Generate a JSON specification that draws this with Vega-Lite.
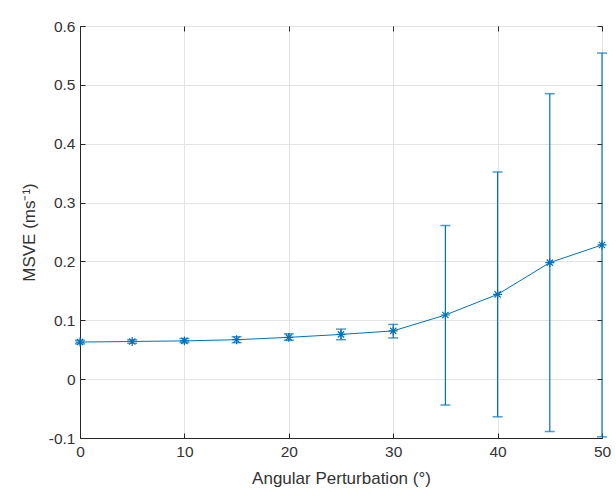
{
  "$schema": "https://vega.github.io/schema/vega-lite/v6.json",
  "width": 522,
  "height": 412,
  "autosize": {"type": "none"},
  "padding": {"left": 80, "top": 26, "right": 14, "bottom": 58},
  "background": "white",
  "config": {
    "font": "Liberation Sans",
    "view": {"stroke": "#262626", "strokeWidth": 1},
    "axis": {
      "domainColor": "#262626",
      "tickColor": "#262626",
      "labelColor": "#333333",
      "titleColor": "#333333",
      "labelFont": "Liberation Sans",
      "titleFont": "Liberation Sans",
      "labelFontSize": 15.5,
      "titleFontSize": 17,
      "titleFontWeight": "normal",
      "gridColor": "#e3e3e3",
      "gridWidth": 1,
      "tickSize": -5,
      "tickWidth": 1
    }
  },
  "resolve": {"axis": {"x": "independent", "y": "independent"}},
  "data": {
    "values": [
      {"angle": 0, "msve": 0.063, "lo": 0.060, "hi": 0.066},
      {"angle": 5, "msve": 0.064, "lo": 0.061, "hi": 0.067},
      {"angle": 10, "msve": 0.065, "lo": 0.062, "hi": 0.069},
      {"angle": 15, "msve": 0.067, "lo": 0.062, "hi": 0.072},
      {"angle": 20, "msve": 0.071, "lo": 0.066, "hi": 0.077},
      {"angle": 25, "msve": 0.076, "lo": 0.067, "hi": 0.085},
      {"angle": 30, "msve": 0.082, "lo": 0.070, "hi": 0.093},
      {"angle": 35, "msve": 0.109, "lo": -0.044, "hi": 0.261},
      {"angle": 40, "msve": 0.144, "lo": -0.064, "hi": 0.352},
      {"angle": 45, "msve": 0.198, "lo": -0.089, "hi": 0.485},
      {"angle": 50, "msve": 0.228, "lo": -0.098, "hi": 0.554}
    ]
  },
  "layer": [
    {
      "mark": {"type": "rule", "color": "#0072BD", "strokeWidth": 1.2, "clip": false},
      "encoding": {
        "x": {
          "field": "angle",
          "type": "quantitative",
          "scale": {"domain": [0, 50], "nice": false, "zero": false},
          "axis": {
            "title": "Angular Perturbation (°)",
            "values": [0, 10, 20, 30, 40, 50],
            "labelPadding": 11,
            "titlePadding": 11,
            "labelFlush": false
          }
        },
        "y": {
          "field": "lo",
          "type": "quantitative",
          "scale": {"domain": [-0.1, 0.6], "nice": false, "zero": false},
          "axis": {
            "title": "MSVE (ms⁻¹)",
            "values": [-0.1, 0, 0.1, 0.2, 0.3, 0.4, 0.5, 0.6],
            "labelExpr": "datum.value < -0.0001 ? '-' + format(-datum.value, '.1~f') : format(abs(datum.value), '.1~f')",
            "labelPadding": 10,
            "titlePadding": 10,
            "labelFlush": false
          }
        },
        "y2": {"field": "hi"}
      }
    },
    {
      "mark": {"type": "tick", "orient": "horizontal", "color": "#0072BD", "size": 10, "thickness": 1.5, "clip": false},
      "encoding": {
        "x": {"field": "angle", "type": "quantitative", "axis": null},
        "y": {"field": "lo", "type": "quantitative", "axis": null}
      }
    },
    {
      "mark": {"type": "tick", "orient": "horizontal", "color": "#0072BD", "size": 10, "thickness": 1.5, "clip": false},
      "encoding": {
        "x": {"field": "angle", "type": "quantitative", "axis": null},
        "y": {"field": "hi", "type": "quantitative", "axis": null}
      }
    },
    {
      "mark": {"type": "line", "color": "#0072BD", "strokeWidth": 1},
      "encoding": {
        "x": {"field": "angle", "type": "quantitative", "axis": {"orient": "top", "values": [0, 10, 20, 30, 40, 50], "labels": false, "grid": false, "title": null, "domain": false}},
        "y": {"field": "msve", "type": "quantitative", "axis": {"orient": "right", "values": [-0.1, 0, 0.1, 0.2, 0.3, 0.4, 0.5, 0.6], "labels": false, "grid": false, "title": null, "domain": false}}
      }
    },
    {
      "mark": {
        "type": "point",
        "shape": "M-1,0L1,0M0,-1L0,1M-0.7,-0.7L0.7,0.7M-0.7,0.7L0.7,-0.7",
        "filled": false,
        "color": "#0072BD",
        "strokeWidth": 1.2,
        "size": 80,
        "opacity": 1,
        "clip": false
      },
      "encoding": {
        "x": {"field": "angle", "type": "quantitative", "axis": null},
        "y": {"field": "msve", "type": "quantitative", "axis": null}
      }
    }
  ]
}
